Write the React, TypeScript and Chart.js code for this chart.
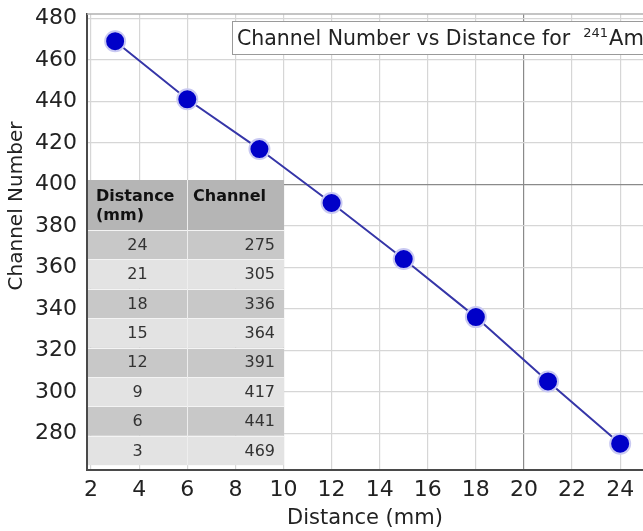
import React, { useEffect, useRef } from "react";
import { Chart, registerables } from "chart.js";

Chart.register(...registerables);

// ---- data ----
const distances = [3, 6, 9, 12, 15, 18, 21, 24];
const channels = [469, 441, 417, 391, 364, 336, 305, 275];
const tableDistances = [24, 21, 18, 15, 12, 9, 6, 3];
const tableChannels = [275, 305, 336, 364, 391, 417, 441, 469];
const tableHeaderLeft = ["Distance", "(mm)"];
const tableHeaderRight = ["Channel"];
const chartTitle = "Channel Number vs Distance for";
const isotopeMass = "241";
const isotopeSymbol = "Am";
const xAxisTitle = "Distance (mm)";
const yAxisTitle = "Channel Number";
const xRange = [1.83, 24.95];
const yRange = [262.55, 482.1];
const xStep = 2;
const yStep = 20;
const xMajor = 20;
const yMajor = 400;

const FONT = "'DejaVu Sans', sans-serif";

const zeroPad = (s: any) => {
  s.paddingLeft = 0;
  s.paddingRight = 0;
  s.paddingTop = 0;
  s.paddingBottom = 0;
};

const overlayPlugin = {
  id: "overlay",
  beforeDatasetsDraw(chart: any) {
    const { ctx, chartArea } = chart;
    // table
    const left = chartArea.left + 1;
    const right = left + 196;
    const mid = left + 99;
    const top = 180;
    const headerH = 50;
    const rowH = 29.4;
    ctx.save();
    ctx.fillStyle = "#b5b5b5";
    ctx.fillRect(left, top, right - left, headerH);
    tableDistances.forEach((d, i) => {
      const y = top + headerH + i * rowH;
      ctx.fillStyle = i % 2 === 0 ? "#c8c8c8" : "#e3e3e3";
      ctx.fillRect(left, y, right - left, rowH);
      ctx.strokeStyle = "#f4f4f4";
      ctx.lineWidth = 1;
      ctx.beginPath();
      ctx.moveTo(left, Math.round(y) + 0.5);
      ctx.lineTo(right, Math.round(y) + 0.5);
      ctx.stroke();
    });
    ctx.strokeStyle = "#eeeeee";
    ctx.beginPath();
    ctx.moveTo(mid + 0.5, top);
    ctx.lineTo(mid + 0.5, top + headerH + tableDistances.length * rowH);
    ctx.stroke();
    // header text
    ctx.fillStyle = "#111";
    ctx.font = `bold 16px ${FONT}`;
    ctx.textBaseline = "alphabetic";
    ctx.textAlign = "left";
    tableHeaderLeft.forEach((t, i) => ctx.fillText(t, left + 8, top + 21 + i * 19));
    tableHeaderRight.forEach((t, i) => ctx.fillText(t, mid + 6, top + 21 + i * 19));
    // body text
    ctx.font = `16px ${FONT}`;
    ctx.fillStyle = "#333";
    ctx.textBaseline = "middle";
    tableDistances.forEach((d, i) => {
      const y = top + headerH + i * rowH + rowH / 2 + 1;
      ctx.textAlign = "center";
      ctx.fillText(String(d), (left + mid) / 2, y);
      ctx.textAlign = "right";
      ctx.fillText(String(tableChannels[i]), right - 9, y);
    });
    ctx.restore();
  },
  afterDraw(chart: any) {
    const { ctx, chartArea } = chart;
    ctx.save();
    // top border
    ctx.strokeStyle = "#b0b0b0";
    ctx.lineWidth = 1.5;
    ctx.beginPath();
    ctx.moveTo(chartArea.left, chartArea.top);
    ctx.lineTo(chart.width, chartArea.top);
    ctx.stroke();
    // title box
    const bx = 232.5;
    const by = 21.5;
    ctx.fillStyle = "#ffffff";
    ctx.fillRect(bx, by, chart.width - bx + 5, 33);
    ctx.strokeStyle = "#9a9a9a";
    ctx.lineWidth = 1;
    ctx.strokeRect(bx, by, chart.width - bx + 5, 33);
    ctx.fillStyle = "#222";
    ctx.textBaseline = "alphabetic";
    ctx.textAlign = "left";
    ctx.font = `20.5px ${FONT}`;
    const tx = 237;
    const ty = 45;
    ctx.fillText(chartTitle, tx, ty);
    const w1 = ctx.measureText(chartTitle + "  ").width;
    ctx.font = `13px ${FONT}`;
    ctx.fillText(isotopeMass, tx + w1, ty - 8);
    const w2 = ctx.measureText(isotopeMass).width;
    ctx.font = `21px ${FONT}`;
    ctx.fillText(isotopeSymbol, tx + w1 + w2 + 1, ty);
    // y axis title
    ctx.translate(17, 206);
    ctx.rotate(-Math.PI / 2);
    ctx.textAlign = "center";
    ctx.textBaseline = "middle";
    ctx.font = `20px ${FONT}`;
    ctx.fillStyle = "#222";
    ctx.fillText(yAxisTitle, 0, 0);
    ctx.restore();
  },
};

export default function App() {
  const ref = useRef<HTMLCanvasElement>(null);
  useEffect(() => {
    if (!ref.current) return;
    const chart = new Chart(ref.current, {
      type: "scatter",
      data: {
        datasets: [
          {
            data: distances.map((x, i) => ({ x, y: channels[i] })),
            showLine: true,
            borderColor: "#3636a8",
            borderWidth: 2,
            pointRadius: 10,
            pointHoverRadius: 10,
            pointBackgroundColor: "#0000c8",
            pointBorderColor: "#c9c9f2",
            pointBorderWidth: 2,
          },
        ],
      },
      options: {
        responsive: false,
        animation: false,
        devicePixelRatio: 1,
        layout: { autoPadding: false, padding: { top: 14, left: 0, right: 0, bottom: 0 } },
        plugins: {
          legend: { display: false },
          tooltip: { enabled: false },
          title: { display: false },
        },
        scales: {
          x: {
            type: "linear",
            min: xRange[0],
            max: xRange[1],
            afterFit: (s: any) => {
              s.height = 61.5;
              zeroPad(s);
            },
            ticks: {
              stepSize: xStep,
              includeBounds: false,
              font: { family: FONT, size: 22 },
              color: "#222",
              padding: 8,
              maxRotation: 0,
            },
            grid: {
              color: (c: any) => (c.tick && c.tick.value === xMajor ? "#8a8a8a" : "#d6d6d6"),
              lineWidth: 1.2,
              drawTicks: false,
            },
            border: { color: "#4a4a4a", width: 2 },
            title: {
              display: true,
              text: xAxisTitle,
              font: { family: FONT, size: 21 },
              color: "#222",
              padding: { top: 0, bottom: 0 },
            },
          },
          y: {
            type: "linear",
            min: yRange[0],
            max: yRange[1],
            afterFit: (s: any) => {
              s.width = 87;
              zeroPad(s);
            },
            ticks: {
              stepSize: yStep,
              includeBounds: false,
              font: { family: FONT, size: 22 },
              color: "#222",
              padding: 10,
            },
            grid: {
              color: (c: any) => (c.tick && c.tick.value === yMajor ? "#8a8a8a" : "#d6d6d6"),
              lineWidth: 1.2,
              drawTicks: false,
            },
            border: { color: "#4a4a4a", width: 2 },
          },
        },
      },
      plugins: [overlayPlugin],
    });
    return () => chart.destroy();
  }, []);
  return (
    <div style={{ position: "absolute", left: 0, top: 0, width: 643, height: 531, background: "#fff" }}>
      <canvas ref={ref} width={643} height={531} style={{ display: "block" }} />
    </div>
  );
}
